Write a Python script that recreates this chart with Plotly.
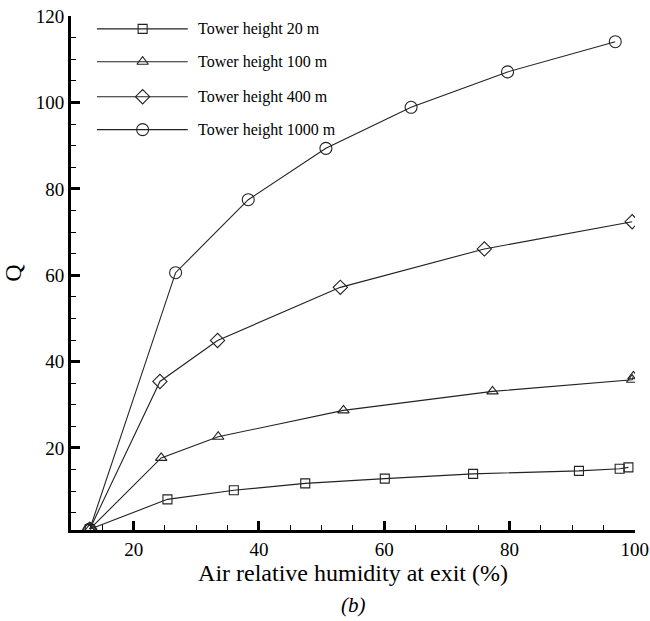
import plotly.graph_objects as go

# Air relative humidity at exit (%) and Q for each tower height
hum_20 = [13.0, 25.4, 36.0, 47.4, 60.1, 74.2, 91.1, 97.6, 99.0]
q_20 = [1.2, 8.1, 10.2, 11.8, 12.9, 14.0, 14.7, 15.2, 15.5]

hum_100 = [13.0, 24.4, 33.5, 53.5, 77.3, 99.6, 99.8]
q_100 = [1.2, 17.7, 22.6, 28.7, 33.1, 35.8, 36.6]

hum_400 = [13.0, 24.2, 33.4, 53.0, 76.0, 99.6]
q_400 = [1.2, 35.4, 44.9, 57.2, 66.1, 72.4]

hum_1000 = [13.0, 26.7, 38.3, 50.7, 64.3, 79.7, 96.9]
q_1000 = [1.2, 60.6, 77.5, 89.4, 98.9, 107.1, 114.1]

series_names = ["Tower height 20 m", "Tower height 100 m",
                "Tower height 400 m", "Tower height 1000 m"]
symbols = ["square-open", "triangle-up-open", "diamond-open", "circle-open"]
sizes = [9, 10, 11, 12]

x_ticks = [20, 40, 60, 80, 100]
y_ticks = [20, 40, 60, 80, 100, 120]

FONT = "Liberation Serif"
INK = "#222222"

fig = go.Figure()

data = [(hum_20, q_20), (hum_100, q_100), (hum_400, q_400), (hum_1000, q_1000)]
for (xs, ys), name, sym, sz in zip(data, series_names, symbols, sizes):
    fig.add_trace(go.Scatter(
        x=xs, y=ys, mode="lines+markers", name=name, showlegend=False,
        line=dict(color=INK, width=1.1),
        marker=dict(symbol=sym, size=sz, color=INK, line=dict(width=1.1)),
    ))

# Legend drawn on an overlay axis spanning [0, 1] so the sample lines can be long
leg_rows = [0.975, 0.911, 0.843, 0.779]
leg_x0, leg_xm, leg_x1 = 0.046, 0.127, 0.207
for row, name, sym, sz in zip(leg_rows, series_names, symbols, sizes):
    fig.add_trace(go.Scatter(
        x=[leg_x0, leg_x1], y=[row, row], mode="lines", showlegend=False,
        xaxis="x2", yaxis="y2", hoverinfo="skip",
        line=dict(color=INK, width=1.1),
    ))
    fig.add_trace(go.Scatter(
        x=[leg_xm], y=[row], mode="markers", showlegend=False,
        xaxis="x2", yaxis="y2", hoverinfo="skip",
        marker=dict(symbol=sym, size=sz, color=INK, line=dict(width=1.1)),
    ))
    fig.add_annotation(
        x=0.222, y=row, xref="x2", yref="y2", text=name, showarrow=False,
        xanchor="left", yanchor="middle",
        font=dict(family=FONT, size=16, color="black"),
    )

fig.add_annotation(
    x=0.5, y=-0.145, xref="paper", yref="paper", text="<i>(b)</i>",
    showarrow=False, xanchor="center", yanchor="middle",
    font=dict(family=FONT, size=21, color="black"),
)

axis_common = dict(
    showline=True, linecolor="black", linewidth=3, mirror=False,
    showgrid=False, zeroline=False, automargin=False,
    ticks="inside", ticklen=9, tickwidth=3, tickcolor="black",
    ticklabeloverflow="allow",
    tickfont=dict(family=FONT, size=19, color="black"),
)

fig.update_layout(
    width=650, height=621,
    margin=dict(l=71, r=15, t=16, b=91),
    paper_bgcolor="white", plot_bgcolor="white",
    font=dict(family=FONT, color="black"),
    showlegend=False,
    xaxis=dict(
        range=[10, 100.05], tickvals=x_ticks,
        minor=dict(dtick=5, tick0=0, ticks="inside", ticklen=5, tickwidth=1,
                   tickcolor="black"),
        title=dict(text="Air relative humidity at exit (%)", standoff=6,
                   font=dict(family=FONT, size=24, color="black")),
        **axis_common,
    ),
    yaxis=dict(
        range=[1, 120.05], tickvals=y_ticks,
        minor=dict(dtick=5, tick0=0, ticks="inside", ticklen=5, tickwidth=1,
                   tickcolor="black"),
        title=dict(text="Q", standoff=14,
                   font=dict(family=FONT, size=24, color="black")),
        **axis_common,
    ),
    xaxis2=dict(range=[0, 1], overlaying="x", visible=False, fixedrange=True),
    yaxis2=dict(range=[0, 1], overlaying="y", visible=False, fixedrange=True),
)

fig.write_html("out.html")
